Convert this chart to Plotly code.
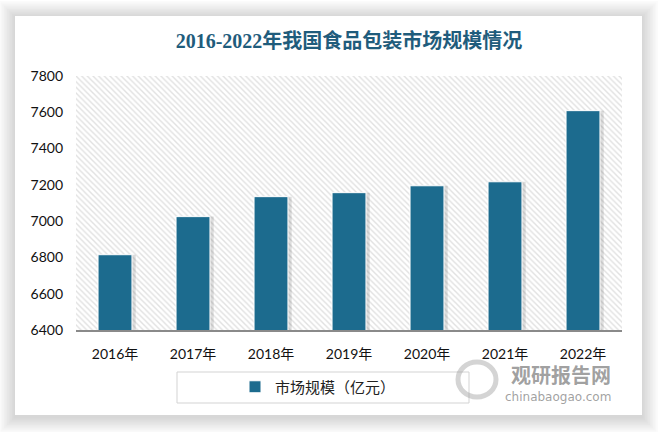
import plotly.graph_objects as go

# ---- data ----
years = ["2016年", "2017年", "2018年", "2019年", "2020年", "2021年", "2022年"]
market_size = [6815, 7025, 7135, 7157, 7195, 7217, 7609]
y_ticks = [6400, 6600, 6800, 7000, 7200, 7400, 7600, 7800]
series_name = "市场规模（亿元）"
title_text = "2016-2022年我国食品包装市场规模情况"

# ---- layout helpers (pixel -> paper) ----
W, H = 659, 432
L, R, T, B = 76, 37, 76, 102
PW, PH = W - L - R, H - T - B


def px_x(px):
    return (px - L) / PW


def px_y(py):
    return (H - B - py) / PH


BAR_COLOR = "#1c6b8e"
TICK_FONT = dict(family="Lato, Noto Sans CJK SC, sans-serif", size=14, color="#111111")

fig = go.Figure()

# hatched plot-area background on a hidden base subplot
fig.add_trace(go.Scatter(
    x=[0, 1, 1, 0, 0], y=[0, 0, 1, 1, 0], mode="lines", fill="toself",
    line=dict(width=0, color="rgba(0,0,0,0)"),
    fillcolor="white",
    fillpattern=dict(shape="\\", fgcolor="#c4c4c4", bgcolor="white", size=4, solidity=0.35),
    hoverinfo="skip", showlegend=False, xaxis="x", yaxis="y",
))

# soft shadow behind bars
fig.add_trace(go.Bar(
    x=years, y=market_size, width=0.48, offset=-0.215,
    marker=dict(color="rgba(0,0,0,0.13)", line=dict(width=0)),
    hoverinfo="skip", showlegend=False, xaxis="x2", yaxis="y2",
))

# main bars
fig.add_trace(go.Bar(
    x=years, y=market_size, name=series_name, width=0.435,
    marker=dict(color=BAR_COLOR, line=dict(color="white", width=1)),
    xaxis="x2", yaxis="y2",
))

# card with shadow
shapes = []
cx0, cx1, cy0, cy1 = 15, 642, 16, 415
n = 10
for i in range(n):
    e = (n - i) * 1.6
    shapes.append(dict(
        type="rect", xref="paper", yref="paper", layer="below",
        x0=px_x(cx0 - e), x1=px_x(cx1 + e), y0=px_y(cy0 - e + 1), y1=px_y(cy1 + e + 2),
        fillcolor="rgba(0,0,0,0.017)", line=dict(width=0),
    ))
shapes.append(dict(
    type="rect", xref="paper", yref="paper", layer="below",
    x0=px_x(cx0), x1=px_x(cx1), y0=px_y(cy0), y1=px_y(cy1),
    fillcolor="white", line=dict(width=0),
))
# legend box
shapes.append(dict(
    type="rect", xref="paper", yref="paper", layer="above",
    x0=px_x(177), x1=px_x(469), y0=px_y(372), y1=px_y(403),
    fillcolor="rgba(0,0,0,0)", line=dict(color="#d3d3d3", width=1),
))
# watermark logo ring
shapes.append(dict(
    type="circle", xref="paper", yref="paper", layer="above",
    x0=px_x(458), x1=px_x(496), y0=px_y(362), y1=px_y(397),
    fillcolor="rgba(0,0,0,0)", line=dict(color="rgba(160,160,160,0.45)", width=5),
))

annotations = [
    dict(text="观研报告网", xref="paper", yref="paper", x=px_x(561), y=px_y(374),
         xanchor="center", yanchor="middle", showarrow=False, borderpad=0,
         font=dict(family="Noto Sans CJK SC", size=20, color="rgba(130,130,130,0.75)", weight="bold")),
    dict(text="chinabaogao.com", xref="paper", yref="paper", x=px_x(558), y=px_y(397),
         xanchor="center", yanchor="middle", showarrow=False, borderpad=0,
         font=dict(family="DejaVu Sans", size=12, color="rgba(130,130,130,0.75)")),
]

fig.update_layout(
    width=W, height=H,
    margin=dict(l=L, r=R, t=T, b=B, pad=0),
    paper_bgcolor="white", plot_bgcolor="rgba(0,0,0,0)",
    barmode="overlay",
    title=dict(text=title_text, x=0.5, xref="paper", xanchor="center",
               y=1 - 41 / H, yref="container", yanchor="middle",
               font=dict(family="Liberation Serif, Noto Sans CJK SC, serif", size=20,
                         color="#1f5c7c", weight="bold")),
    xaxis=dict(range=[0, 1], visible=False, fixedrange=True),
    yaxis=dict(range=[0, 1], visible=False, fixedrange=True),
    xaxis2=dict(overlaying="x", anchor="y2", side="bottom", showgrid=False, zeroline=False,
                showline=True, linecolor="#8a8a8a", linewidth=1.5, ticks="",
                tickfont=TICK_FONT, ticklabelstandoff=10, range=[-0.5, 6.5]),
    yaxis2=dict(overlaying="y", anchor="x2", side="left", range=[6400, 7800],
                tickvals=y_ticks, showgrid=False, zeroline=False, showline=False,
                ticks="", tickfont=TICK_FONT, ticklabelstandoff=12),
    showlegend=True,
    legend=dict(orientation="h", x=px_x(318), y=px_y(387), xanchor="center", yanchor="middle",
                bgcolor="rgba(0,0,0,0)", borderwidth=0,
                font=dict(family="Noto Sans CJK SC", size=15, color="#222222")),
    shapes=shapes,
    annotations=annotations,
)

fig.write_html("out.html", config={"displayModeBar": False},
               post_script="document.body.style.margin='0';")
